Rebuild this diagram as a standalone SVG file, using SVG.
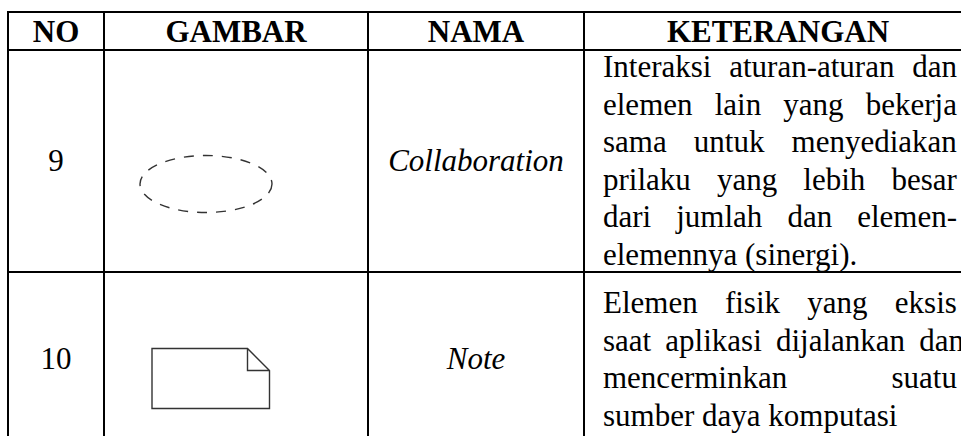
<svg xmlns="http://www.w3.org/2000/svg" width="961" height="436" viewBox="0 0 961 436">
  <style>
    .grid { stroke: #000; stroke-width: 2; fill: none; }
    .sym { stroke: #333; stroke-width: 1.4; fill: none; }
  </style>
  <rect width="961" height="436" fill="#fff"/>

  <!-- table rules -->
  <g id="grid" class="grid">
    <line x1="7" y1="12" x2="961" y2="12"/>
    <line x1="7" y1="50" x2="961" y2="50"/>
    <line x1="7" y1="272" x2="961" y2="272"/>
    <line x1="8" y1="11" x2="8" y2="436"/>
    <line x1="104" y1="11" x2="104" y2="436"/>
    <line x1="368" y1="11" x2="368" y2="436"/>
    <line x1="584" y1="11" x2="584" y2="436"/>
  </g>

  <!-- header row -->
  <g id="header" font-family="Liberation Serif" font-size="31" font-weight="bold" text-anchor="middle" fill="#000">
    <text x="56" y="42">NO</text>
    <text x="236" y="42">GAMBAR</text>
    <text x="476" y="42">NAMA</text>
    <text x="778" y="42">KETERANGAN</text>
  </g>

  <!-- row 9: collaboration -->
  <g id="row-collaboration" fill="#000">
    <ellipse class="sym" cx="206" cy="184" rx="66" ry="28.5" stroke-dasharray="10 9"/>
    <text x="56" y="171" text-anchor="middle" font-family="Liberation Serif" font-size="31">9</text>
    <text x="476" y="171" text-anchor="middle" font-family="Liberation Serif" font-size="31" font-style="italic">Collaboration</text>
    <text x="603" y="77" font-family="Liberation Serif" font-size="31" word-spacing="10">Interaksi aturan-aturan dan</text>
    <text x="603" y="114.5" font-family="Liberation Serif" font-size="31" word-spacing="14.4">elemen lain yang bekerja</text>
    <text x="603" y="152" font-family="Liberation Serif" font-size="31" word-spacing="19.4">sama untuk menyediakan</text>
    <text x="603" y="189.5" font-family="Liberation Serif" font-size="31" word-spacing="18.4">prilaku yang lebih besar</text>
    <text x="603" y="227" font-family="Liberation Serif" font-size="31" word-spacing="17.3">dari jumlah dan elemen-</text>
    <text x="603" y="264.5" font-family="Liberation Serif" font-size="31">elemennya (sinergi).</text>
  </g>

  <!-- row 10: note -->
  <g id="row-note" fill="#000">
    <path class="sym" d="M152 348.5 H247.5 L269.5 370.5 V408.5 H152 Z M247.5 348.5 V370.5 H269.5"/>
    <text x="56" y="369" text-anchor="middle" font-family="Liberation Serif" font-size="31">10</text>
    <text x="476" y="369" text-anchor="middle" font-family="Liberation Serif" font-size="31" font-style="italic">Note</text>
    <text x="603" y="313" font-family="Liberation Serif" font-size="31" word-spacing="19.5">Elemen fisik yang eksis</text>
    <text x="603" y="350.5" font-family="Liberation Serif" font-size="31" word-spacing="6.4">saat aplikasi dijalankan dan</text>
    <text x="603" y="388" font-family="Liberation Serif" font-size="31" word-spacing="96.6">mencerminkan suatu</text>
    <text x="603" y="425.5" font-family="Liberation Serif" font-size="31">sumber daya komputasi</text>
  </g>
</svg>
